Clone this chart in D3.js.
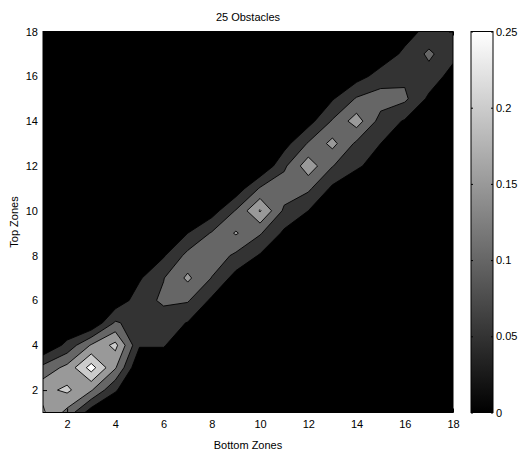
<!DOCTYPE html>
<html><head><meta charset="utf-8">
<script src="https://cdn.jsdelivr.net/npm/d3@7"></script>
<style>
body{margin:0;background:#fff}
text{font-family:"Liberation Sans",Arial,Helvetica,sans-serif;font-size:11px;fill:#000}
</style>
</head><body>
<svg id="chart" width="521" height="452"></svg>
<script>
// ---------- data ----------
const chartTitle = "25 Obstacles";
const xLabel = "Bottom Zones";
const yLabel = "Top Zones";
const bottomZones = [1,2,3,4,5,6,7,8,9,10,11,12,13,14,15,16,17,18];
const topZones    = [1,2,3,4,5,6,7,8,9,10,11,12,13,14,15,16,17,18];
const xTicks = [2,4,6,8,10,12,14,16,18];
const yTicks = [2,4,6,8,10,12,14,16,18];
const contourLevels = [0.05,0.1,0.15,0.2,0.25];
const colorTicks = [0,0.05,0.1,0.15,0.2,0.25];
const colorRange = [0,0.25];
// one row per Top Zone (1..18); entries are Bottom Zones 1..18
const gridRows = [
  [.207,.135,.02,0,0,0,0,0,0,0,0,0,0,0,0,0,0,0],
  [.185,.21,.155,.055,0,0,0,0,0,0,0,0,0,0,0,0,0,0],
  [.115,.165,.272,.155,0,0,0,0,0,0,0,0,0,0,0,0,0,0],
  [0,.065,.155,.215,.055,.055,0,0,0,0,0,0,0,0,0,0,0,0],
  [0,0,0,.107,.075,.07,.048,0,0,0,0,0,0,0,0,0,0,0],
  [0,0,0,.016,.0755,.11,.105,.04,0,0,0,0,0,0,0,0,0,0],
  [0,0,0,0,.044,.098,.16,.098,.03,0,0,0,0,0,0,0,0,0],
  [0,0,0,0,0,.045,.115,.13,.09,.045,0,0,0,0,0,0,0,0],
  [0,0,0,0,0,0,.05,.105,.155,.105,.04,0,0,0,0,0,0,0],
  [0,0,0,0,0,0,0,.026,.104,.205,.09,.05,0,0,0,0,0,0],
  [0,0,0,0,0,0,0,0,.018,.105,.13,.11,.04,0,0,0,0,0],
  [0,0,0,0,0,0,0,0,0,0,.09,.18,.102,.06,.02,0,0,0],
  [0,0,0,0,0,0,0,0,0,0,.03,.105,.165,.09,.05,0,0,0],
  [0,0,0,0,0,0,0,0,0,0,0,.03,.105,.175,.08,.045,0,0],
  [0,0,0,0,0,0,0,0,0,0,0,0,.045,.105,.125,.11,.04,0],
  [0,0,0,0,0,0,0,0,0,0,0,0,0,.03,.07,.09,.08,.03],
  [0,0,0,0,0,0,0,0,0,0,0,0,0,0,.02,.06,.11,.065],
  [0,0,0,0,0,0,0,0,0,0,0,0,0,0,0,.03,.065,.07]
];

// ---------- layout ----------
const plot = {left:43, right:453, top:31.5, bottom:412.5};
const cbar = {left:471, right:493, top:31.5, bottom:412.5};
const svg = d3.select("#chart");

const x = d3.scaleLinear().domain([bottomZones[0], bottomZones[bottomZones.length-1]]).range([plot.left, plot.right]);
const y = d3.scaleLinear().domain([topZones[0], topZones[topZones.length-1]]).range([plot.bottom, plot.top]);
const gray = d3.scaleLinear().domain(colorRange).range(["#000000","#ffffff"]);

// clip
svg.append("defs").append("clipPath").attr("id","plotClip")
  .append("rect").attr("x",plot.left).attr("y",plot.top)
  .attr("width",plot.right-plot.left).attr("height",plot.bottom-plot.top);

const g = svg.append("g").attr("clip-path","url(#plotClip)");
// lowest level (0 .. 0.05)
g.append("rect").attr("x",plot.left).attr("y",plot.top)
  .attr("width",plot.right-plot.left).attr("height",plot.bottom-plot.top)
  .attr("fill",gray(colorRange[0]));

const nx = bottomZones.length, ny = topZones.length;
const values = [];
gridRows.forEach(r => r.forEach(v => values.push(v)));
const contours = d3.contours().size([nx,ny]).thresholds(contourLevels)(values);
const proj = d3.geoTransform({
  point(px,py){ this.stream.point(x(bottomZones[0] + px - 0.5), y(topZones[0] + py - 0.5)); }
});
const path = d3.geoPath(proj);
g.selectAll("path.lvl").data(contours).join("path").attr("class","lvl")
  .attr("d",path)
  .attr("fill",d=>gray(d.value))
  .attr("stroke","#000").attr("stroke-width",0.9).attr("stroke-linejoin","round");

// axes (MATLAB-style inward ticks)
const tickLen = 4;
const xAxis = svg.append("g").attr("transform",`translate(0,${plot.bottom})`)
  .call(d3.axisBottom(x).tickValues(xTicks).tickSize(-tickLen).tickPadding(8).tickFormat(d3.format("d")));
const yAxis = svg.append("g").attr("transform",`translate(${plot.left},0)`)
  .call(d3.axisLeft(y).tickValues(yTicks).tickSize(-tickLen).tickPadding(5).tickFormat(d3.format("d")));
const xTop = svg.append("g").attr("transform",`translate(0,${plot.top})`)
  .call(d3.axisTop(x).tickValues(xTicks).tickSize(-tickLen).tickFormat(""));
const yRight = svg.append("g").attr("transform",`translate(${plot.right},0)`)
  .call(d3.axisRight(y).tickValues(yTicks).tickSize(-tickLen).tickFormat(""));
[xAxis,yAxis,xTop,yRight].forEach(a=>{
  a.select(".domain").remove();
  a.selectAll("line").attr("stroke","#000");
  a.selectAll("text").attr("font-family",null).attr("font-size",null).style("font-family","'Liberation Sans',Arial,sans-serif").style("font-size","11px");
});
svg.append("rect").attr("x",plot.left).attr("y",plot.top)
  .attr("width",plot.right-plot.left).attr("height",plot.bottom-plot.top)
  .attr("fill","none").attr("stroke","#000").attr("stroke-width",1);

// labels
svg.append("text").attr("x",(plot.left+plot.right)/2).attr("y",20.5)
  .attr("text-anchor","middle").style("font-size","11px").text(chartTitle);
svg.append("text").attr("x",(plot.left+plot.right)/2).attr("y",449)
  .attr("text-anchor","middle").text(xLabel);
svg.append("text").attr("transform",`translate(17.5,${(plot.top+plot.bottom)/2}) rotate(-90)`)
  .attr("text-anchor","middle").text(yLabel);

// colorbar
const cy = d3.scaleLinear().domain(colorRange).range([cbar.bottom, cbar.top]);
const grad = svg.select("defs").append("linearGradient").attr("id","cbGrad")
  .attr("x1","0").attr("y1","1").attr("x2","0").attr("y2","0");
grad.append("stop").attr("offset","0").attr("stop-color",gray(colorRange[0]));
grad.append("stop").attr("offset","1").attr("stop-color",gray(colorRange[1]));
svg.append("rect").attr("x",cbar.left).attr("y",cbar.top)
  .attr("width",cbar.right-cbar.left).attr("height",cbar.bottom-cbar.top)
  .attr("fill","url(#cbGrad)");
const cAxis = svg.append("g").attr("transform",`translate(${cbar.right},0)`)
  .call(d3.axisRight(cy).tickValues(colorTicks).tickSize(-2).tickPadding(3).tickFormat(d=>String(d)));
const cAxisL = svg.append("g").attr("transform",`translate(${cbar.left},0)`)
  .call(d3.axisLeft(cy).tickValues(colorTicks).tickSize(-2).tickFormat(""));
[cAxis,cAxisL].forEach(a=>{
  a.select(".domain").remove();
  a.selectAll("line").attr("stroke","#000");
  a.selectAll("text").attr("font-family",null).attr("font-size",null).style("font-family","'Liberation Sans',Arial,sans-serif").style("font-size","11px");
});
svg.append("rect").attr("x",cbar.left).attr("y",cbar.top)
  .attr("width",cbar.right-cbar.left).attr("height",cbar.bottom-cbar.top)
  .attr("fill","none").attr("stroke","#000").attr("stroke-width",1);
</script>
</body></html>
